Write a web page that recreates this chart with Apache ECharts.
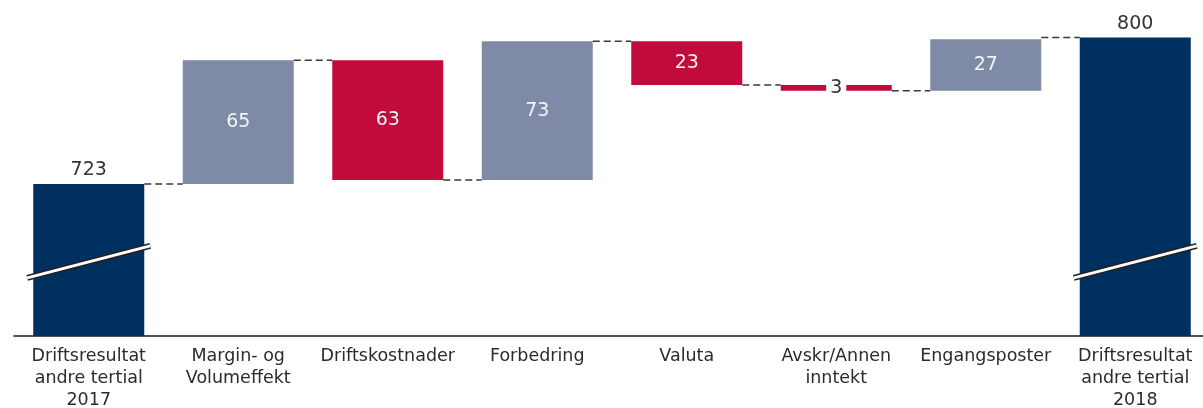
<!DOCTYPE html>
<html><head><meta charset="utf-8">
<script src="https://cdn.jsdelivr.net/npm/echarts@6/dist/echarts.min.js"></script>
<style>html,body{margin:0;padding:0;background:#fff}#c{width:1203px;height:408px}</style>
</head><body><div id="c"></div>
<script>
const categories = ['Driftsresultat\nandre tertial\n2017','Margin- og\nVolumeffekt','Driftskostnader','Forbedring','Valuta','Avskr/Annen\ninntekt','Engangsposter','Driftsresultat\nandre tertial\n2018'];
const changes = [723, 65, -63, 73, -23, -3, 27, 800];
const kinds = ['total','up','down','up','down','down','up','total'];
const labels = ['723','65','63','73','23','3','27','800'];
const breakValue = 682;

const colors = {total:'#00305f', up:'#7f8aa6', down:'#c10c3b'};
const base = [], height = [], levels = [];
let run = 0;
changes.forEach((v,i)=>{
  if (kinds[i]==='total'){ base.push(0); height.push(v); run = v; }
  else if (v>=0){ base.push(run); height.push(v); run += v; }
  else { base.push(run+v); height.push(-v); run += v; }
  levels.push(run);
});
const connectors = [];
for (let i=0;i<categories.length-1;i++){
  connectors.push([i, kinds[i+1]==='total' ? Math.max(levels[i], changes[i+1]) : levels[i]]);
}
const BW = 111;
const chart = echarts.init(document.getElementById('c'), null, {renderer:'canvas'});
chart.setOption({
  animation:false,
  grid:{left:14, right:-7, top:8, bottom:72, containLabel:false, outerBoundsMode:'none'},
  xAxis:{type:'category', data:categories,
    axisLine:{lineStyle:{color:'#1a1a1a', width:1.5}}, axisTick:{show:false},
    axisLabel:{color:'#2b2b2b', fontFamily:'DejaVu Sans', fontSize:17.5, lineHeight:22, margin:9, interval:0}},
  yAxis:{type:'value', min:643, max:815.5, show:false, splitLine:{show:false}},
  series:[
    {type:'bar', stack:'w', barWidth:BW, data:base, itemStyle:{color:'transparent'}, silent:true},
    {type:'bar', stack:'w', barWidth:BW,
      data:height.map((h,i)=>{
        const k = kinds[i];
        const lab = k==='total'
          ? {show:true, position:'top', distance:4, color:'#333', fontSize:19, fontFamily:'DejaVu Sans', formatter:labels[i]}
          : (i===5
            ? {show:true, position:'inside', color:'#333', fontSize:19, fontFamily:'DejaVu Sans', backgroundColor:'#fff', padding:[1,4], formatter:labels[i]}
            : {show:true, position:'inside', color:'#f2f3f7', fontSize:19, fontFamily:'DejaVu Sans', formatter:labels[i]});
        return {value:h, itemStyle:{color:colors[k]}, label:lab};
      })},
    {type:'custom', data:connectors, z:1, silent:true,
      renderItem:function(params, api){
        const i = api.value(0), v = api.value(1);
        const p1 = api.coord([i, v]), p2 = api.coord([i+1, v]);
        return {type:'line', shape:{x1:p1[0]+BW/2, y1:p1[1], x2:p2[0]-BW/2, y2:p2[1]},
          style:{stroke:'#3a3a3a', lineWidth:1.5, lineDash:[7,4]}};
      }},
    {type:'custom', data:[[0, breakValue],[7, breakValue]], z:5, silent:true,
      renderItem:function(params, api){
        const p = api.coord([api.value(0), api.value(1)]);
        const hw = BW/2 + 6, dy = 16;
        const shape = {x1:p[0]-hw, y1:p[1]+dy, x2:p[0]+hw, y2:p[1]-dy};
        return {type:'group', children:[
          {type:'line', shape:shape, style:{stroke:'#222', lineWidth:6}},
          {type:'line', shape:shape, style:{stroke:'#fff', lineWidth:3}}
        ]};
      }}
  ]
});
</script></body></html>
